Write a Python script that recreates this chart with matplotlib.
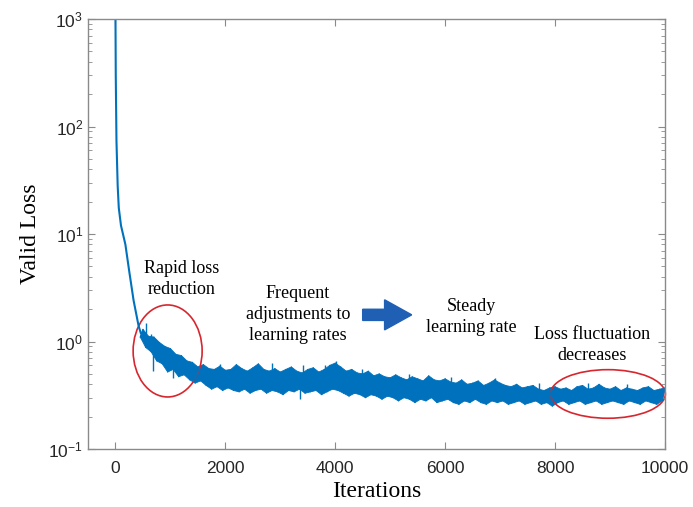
import numpy as np
import matplotlib
matplotlib.use("Agg")
import matplotlib.pyplot as plt
from matplotlib.patches import Ellipse, FancyArrow

# early, steep part of the curve (single line)
early_iter = [0, 5, 18, 40, 60, 100, 180, 250, 330, 420, 460]
early_loss = [1000, 300, 73, 28, 17.5, 12, 8, 4.5, 2.4, 1.4, 1.2]

# noisy part: upper envelope (every 100 from 500) and lower envelope (every 100 from 450)
hi_iter = list(range(500, 10001, 100))
band_hi = [1.30, 1.12, 1.10, 0.98, 0.90, 0.86, 0.76, 0.74, 0.66, 0.64,
           0.58, 0.61, 0.56, 0.55, 0.59, 0.54, 0.55, 0.61, 0.56, 0.53,
           0.57, 0.62, 0.55, 0.53, 0.56, 0.52, 0.55, 0.58, 0.53, 0.51,
           0.55, 0.57, 0.52, 0.55, 0.60, 0.63, 0.58, 0.53, 0.55, 0.51,
           0.50, 0.53, 0.48, 0.50, 0.47, 0.46, 0.49, 0.46, 0.44, 0.47,
           0.45, 0.43, 0.48, 0.44, 0.43, 0.45, 0.42, 0.41, 0.44, 0.40,
           0.41, 0.43, 0.39, 0.41, 0.44, 0.41, 0.39, 0.38, 0.40, 0.37,
           0.38, 0.39, 0.36, 0.35, 0.37, 0.38, 0.36, 0.37, 0.35, 0.38,
           0.39, 0.36, 0.37, 0.40, 0.37, 0.36, 0.38, 0.35, 0.37, 0.36,
           0.35, 0.37, 0.38, 0.35, 0.36, 0.37]
lo_iter = list(range(450, 10000, 100))
band_lo = [1.10, 0.88, 0.80, 0.66, 0.62, 0.52, 0.55, 0.47, 0.49, 0.44,
           0.41, 0.43, 0.39, 0.36, 0.38, 0.35, 0.37, 0.35, 0.34, 0.36,
           0.33, 0.35, 0.36, 0.33, 0.35, 0.34, 0.32, 0.35, 0.34, 0.36,
           0.33, 0.34, 0.35, 0.32, 0.34, 0.36, 0.35, 0.33, 0.31, 0.33,
           0.32, 0.30, 0.32, 0.31, 0.29, 0.31, 0.30, 0.28, 0.30, 0.29,
           0.27, 0.29, 0.28, 0.30, 0.27, 0.28, 0.29, 0.27, 0.26, 0.28,
           0.27, 0.29, 0.27, 0.26, 0.28, 0.27, 0.28, 0.26, 0.27, 0.28,
           0.26, 0.27, 0.28, 0.26, 0.27, 0.25, 0.27, 0.28, 0.26, 0.27,
           0.28, 0.26, 0.27, 0.28, 0.26, 0.27, 0.28, 0.27, 0.26, 0.28,
           0.27, 0.26, 0.28, 0.27, 0.26, 0.28]

# isolated spikes seen in the trace: (iteration, start, end)
spike_iter = [560, 640, 690, 850, 1050, 1220, 1900, 2580, 2850, 3360, 3420,
              3820, 4020, 4480, 5350, 6100, 6900, 7700, 8600, 9300]
spike_from = [1.05, 0.95, 0.80, 0.70, 0.60, 0.55, 0.45, 0.45, 0.45, 0.40, 0.45,
              0.45, 0.45, 0.40, 0.36, 0.34, 0.33, 0.31, 0.31, 0.31]
spike_to = [1.50, 1.17, 0.53, 0.83, 0.46, 0.70, 0.62, 0.57, 0.63, 0.29, 0.61,
            0.60, 0.66, 0.56, 0.50, 0.47, 0.46, 0.41, 0.41, 0.40]

x_ticks = [0, 2000, 4000, 6000, 8000, 10000]

blue = "#0072BD"
red = "#d8262e"
serif = "Liberation Serif"
sans = "Liberation Sans"

fig = plt.figure(figsize=(6.93, 5.07), dpi=100)
ax = fig.add_axes([0.127, 0.1144, 0.8326, 0.8481])

ax.plot(early_iter, early_loss, color=blue, lw=1.5)

# band outline: upper envelope left->right, lower envelope right->left
poly_x = hi_iter + lo_iter[::-1]
poly_y = band_hi + band_lo[::-1]
ax.fill(poly_x, poly_y, color=blue, lw=0.6)

# zigzag through both envelopes for the noisy texture
zz_x, zz_y = [], []
for i in range(len(lo_iter)):
    zz_x += [lo_iter[i], hi_iter[i]]
    zz_y += [band_lo[i], band_hi[i]]
ax.plot(zz_x, zz_y, color=blue, lw=0.8)
ax.vlines(spike_iter, spike_from, spike_to, color=blue, lw=1.0)

ax.set_yscale("log")
ax.set_xlim(-500, 10000)
ax.set_ylim(0.1, 1000)
ax.set_xticks(x_ticks)

for s in ax.spines.values():
    s.set_color("#8a8a8a")
    s.set_linewidth(1.0)
ax.tick_params(which="both", direction="in", top=True, right=True,
               colors="#8a8a8a", labelcolor="#262626", labelsize=12.5)
ax.tick_params(axis="x", pad=9)
ax.tick_params(which="major", length=5)
ax.tick_params(which="minor", length=3)
for lab in ax.get_xticklabels() + ax.get_yticklabels():
    lab.set_family(sans)

ax.set_xlabel("Iterations", family=serif, fontsize=17, labelpad=3)
ax.set_ylabel("Valid Loss", family=serif, fontsize=17, labelpad=5)

# annotations
txt = dict(family=serif, fontsize=13, ha="center", va="center",
           linespacing=1.3, transform=ax.transAxes)
ax.text(0.163, 0.395, "Rapid loss\nreduction", **txt)
ax.text(0.364, 0.312, "Frequent\nadjustments to\nlearning rates", **txt)
ax.text(0.665, 0.308, "Steady\nlearning rate", **txt)
ax.text(0.873, 0.242, "Loss fluctuation\ndecreases", **txt)

ax.add_patch(Ellipse((0.138, 0.228), 0.1196, 0.214, transform=ax.transAxes,
                     fill=False, edgecolor=red, lw=1.2, clip_on=False))
ax.add_patch(Ellipse((0.901, 0.128), 0.1993, 0.113, transform=ax.transAxes,
                     fill=False, edgecolor=red, lw=1.2, clip_on=False))

ax.add_patch(FancyArrow(0.476, 0.312, 0.085, 0.0, width=0.026,
                        head_width=0.07, head_length=0.047,
                        length_includes_head=True, color="#1f5fb4",
                        transform=ax.transAxes))

fig.savefig("out.png", dpi=100)
